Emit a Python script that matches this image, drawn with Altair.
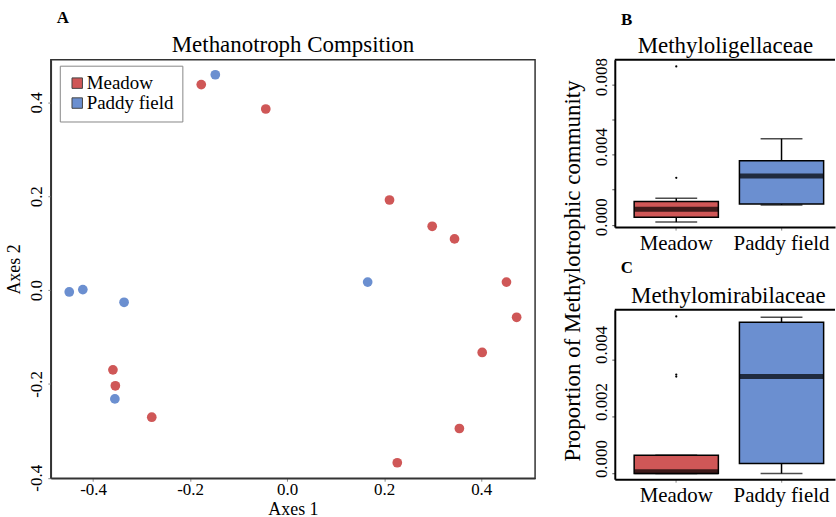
import altair as alt
import pandas as pd

FONT = "Liberation Serif"
RED = "#CF5757"
BLUE = "#6B8FD0"

# ---------------- Panel A: ordination scores ----------------
axis1 = [-0.177, -0.148, -0.044, -0.449, -0.421, -0.336, -0.359, -0.354, -0.355, -0.279,
         0.211, 0.299, 0.345, 0.166, 0.452, 0.473, 0.402, 0.355, 0.227]
axis2 = [0.438, 0.459, 0.386, -0.004, 0.001, -0.026, -0.170, -0.204, -0.232, -0.271,
         0.192, 0.136, 0.109, 0.017, 0.017, -0.058, -0.133, -0.295, -0.368]
site_group = ["Meadow", "Paddy field", "Meadow", "Paddy field", "Paddy field", "Paddy field",
              "Meadow", "Meadow", "Paddy field", "Meadow", "Meadow", "Meadow", "Meadow",
              "Paddy field", "Meadow", "Meadow", "Meadow", "Meadow", "Meadow"]
group_names = ["Meadow", "Paddy field"]
group_colors = [RED, BLUE]
a_xticks = [-0.4, -0.2, 0.0, 0.2, 0.4]
a_yticks = [-0.4, -0.2, 0.0, 0.2, 0.4]

# ---------------- Panels B, C: box statistics ----------------
box_categories = ["Meadow", "Paddy field"]
b_low = [0.00015, 0.00113]
b_q1 = [0.00043, 0.00119]
b_med = [0.00089, 0.00278]
b_q3 = [0.00132, 0.00365]
b_high = [0.00151, 0.00491]
b_out_cat = ["Meadow", "Meadow"]
b_out_val = [0.00268, 0.00904]
b_yticks = [0.0, 0.002, 0.004, 0.006, 0.008]
b_ylabels = ["0.000", "0.004", "0.008"]

c_low = [0.0, 0.0]
c_q1 = [0.0, 0.00035]
c_med = [0.00006, 0.0034]
c_q3 = [0.00064, 0.0053]
c_high = [0.00064, 0.00548]
c_out_cat = ["Meadow", "Meadow", "Meadow"]
c_out_val = [0.00551, 0.00347, 0.00340]
c_yticks = [0.0, 0.001, 0.002, 0.003, 0.004, 0.005]
c_ylabels = ["0.000", "0.002", "0.004"]

minus_fix = "replace(format(datum.value, '.1f'), '\u2212', '-')"


def heading(letter, title, letter_y, title_x, title_y):
    """Panel letter and panel title drawn as text marks above the plot area."""
    lett = alt.Chart(pd.DataFrame({"t": [letter]})).mark_text(
        font=FONT, fontSize=17, fontWeight="bold", align="center", baseline="middle",
        color="black"
    ).encode(text="t:N", x=alt.value(12), y=alt.value(letter_y))
    ttl = alt.Chart(pd.DataFrame({"t": [title]})).mark_text(
        font=FONT, fontSize=23, align="center", baseline="alphabetic", color="black"
    ).encode(text="t:N", x=alt.value(title_x), y=alt.value(title_y))
    return [lett, ttl]


# ---------------- Panel A chart ----------------
pts = pd.DataFrame({"Axes1": axis1, "Axes2": axis2, "Group": site_group})
xs = alt.Scale(domain=[-0.487, 0.511], nice=False, zero=False)
ys = alt.Scale(domain=[-0.401, 0.491], nice=False, zero=False)

scatter = alt.Chart(pts).mark_circle(size=95, opacity=1).encode(
    x=alt.X("Axes1:Q", scale=xs,
            axis=alt.Axis(values=a_xticks, labelExpr=minus_fix, title="Axes 1", grid=False,
                          tickSize=3, labelPadding=0, labelFontSize=17, titleFontSize=18,
                          titlePadding=3, domainColor="#333", domainWidth=1.5,
                          tickColor="#888", labelFlush=False, labelOverlap=False,
                          labelFont=FONT, titleFont=FONT)),
    y=alt.Y("Axes2:Q", scale=ys,
            axis=alt.Axis(values=a_yticks, labelExpr=minus_fix, title="Axes 2", grid=False,
                          labelAngle=270, labelAlign="center", labelBaseline="bottom",
                          tickSize=3, labelPadding=2, labelFontSize=17, titleFontSize=18,
                          titlePadding=4, domainColor="#333", domainWidth=1.5,
                          tickColor="#888", labelFlush=False, labelOverlap=False,
                          labelFont=FONT, titleFont=FONT)),
    color=alt.Color("Group:N", scale=alt.Scale(domain=group_names, range=group_colors),
                    legend=alt.Legend(title=None, orient="none", legendX=9, legendY=6,
                                      symbolType="square", symbolSize=110,
                                      symbolStrokeColor="#444", symbolStrokeWidth=1,
                                      labelFontSize=19, labelOffset=0, padding=8,
                                      rowPadding=0, strokeColor="#888", symbolOffset=0,
                                      fillColor="white", labelColor="black",
                                      labelFont=FONT)),
)

panelA = alt.layer(
    scatter, *heading("A", "Methanotroph Compsition", -42, 243, -8)
).properties(
    width=486, height=420,
    view=alt.ViewBackground(stroke="#333", strokeWidth=1.5),
)


# ---------------- box panels ----------------
def box_panel(title, letter, low, q1, med, q3, high, out_cat, out_val,
              ydomain, yticks, ylabels, label_offset, height, letter_y, title_x):
    stats = pd.DataFrame({"cat": box_categories, "low": low, "q1": q1, "med": med,
                          "q3": q3, "high": high})
    outs = pd.DataFrame({"cat": out_cat, "val": out_val})
    xscale = alt.Scale(domain=box_categories, paddingInner=0.2, paddingOuter=0.146, align=0.63)
    xaxis = alt.Axis(title=None, labelAngle=0, labelFontSize=21, labelPadding=2, tickSize=3,
                     tickColor="#888", domainColor="black", domainWidth=2, labelColor="black",
                     labelFont=FONT)
    x = alt.X("cat:N", scale=xscale, axis=xaxis, title=None)
    ysc = alt.Scale(domain=ydomain, nice=False, zero=False)
    lab_expr = (f"indexof({ylabels!r}, format(datum.value, '.3f')) >= 0 ? "
                f"format(datum.value, '.3f') : ''")
    yaxis = alt.Axis(values=yticks, labelExpr=lab_expr, grid=False, labelAngle=270,
                     labelAlign="center", labelBaseline="bottom", labelOffset=label_offset,
                     labelPadding=1, tickSize=3, labelFontSize=17, tickColor="#555",
                     domainColor="black", domainWidth=2, labelFlush=False, labelOverlap=False,
                     title=None, labelFont=FONT)

    whisk = alt.Chart(stats).mark_rule(color="black", strokeWidth=1.5).encode(
        x=x, y=alt.Y("low:Q", scale=ysc, axis=yaxis, title=None), y2="high:Q")
    st_lo = alt.Chart(stats).mark_tick(color="black", size=42, thickness=1.5).encode(
        x=x, y=alt.Y("low:Q", scale=ysc, title=None))
    st_hi = alt.Chart(stats).mark_tick(color="black", size=42, thickness=1.5).encode(
        x=x, y=alt.Y("high:Q", scale=ysc, title=None))
    box = alt.Chart(stats).mark_bar(stroke="black", strokeWidth=1.5, opacity=1).encode(
        x=x, y=alt.Y("q1:Q", scale=ysc, title=None), y2="q3:Q",
        color=alt.Color("cat:N", scale=alt.Scale(domain=box_categories, range=group_colors),
                        legend=None))
    median = alt.Chart(stats).mark_tick(color="black", size=84, thickness=5).encode(
        x=x, y=alt.Y("med:Q", scale=ysc, title=None))
    outl = alt.Chart(outs).mark_circle(color="black", size=5, opacity=1).encode(
        x=x, y=alt.Y("val:Q", scale=ysc, title=None))
    border = alt.Chart(pd.DataFrame({"t": [letter]})).mark_rule(
        color="black", strokeWidth=2).encode(y=alt.value(0))

    return alt.layer(
        whisk, st_lo, st_hi, box, median, outl, border,
        *heading(letter, title, letter_y, title_x, -7)
    ).properties(width=221, height=height)


panelB = box_panel("Methyloligellaceae", "B", b_low, b_q1, b_med, b_q3, b_high,
                   b_out_cat, b_out_val, [-0.000136, 0.00942], b_yticks, b_ylabels,
                   -8, 168, -40, 111)
panelC = box_panel("Methylomirabilaceae", "C", c_low, c_q1, c_med, c_q3, c_high,
                   c_out_cat, c_out_val, [-0.0002, 0.00574], c_yticks, c_ylabels,
                   -15, 170, -42, 114)

right = alt.vconcat(panelB, panelC, spacing=6).properties(
    title=alt.TitleParams("Proportion of Methylotrophic community", orient="left",
                          anchor="middle", fontSize=23, fontWeight="normal", offset=8,
                          dx=-13, font=FONT)
)

chart = alt.concat(panelA, right, columns=2, align="none", spacing=25).resolve_scale(
    color="independent"
).properties(
    padding={"left": 5, "top": 7, "right": 0, "bottom": 0}
).configure(font=FONT).configure_view(strokeWidth=0).configure_axis(
    labelColor="black", titleColor="black", titleFontWeight="normal",
    labelFont=FONT, titleFont=FONT
).configure_title(font=FONT, color="black").configure_legend(labelFont=FONT)

chart.save("out.html", embed_options={"renderer": "svg", "actions": False})
